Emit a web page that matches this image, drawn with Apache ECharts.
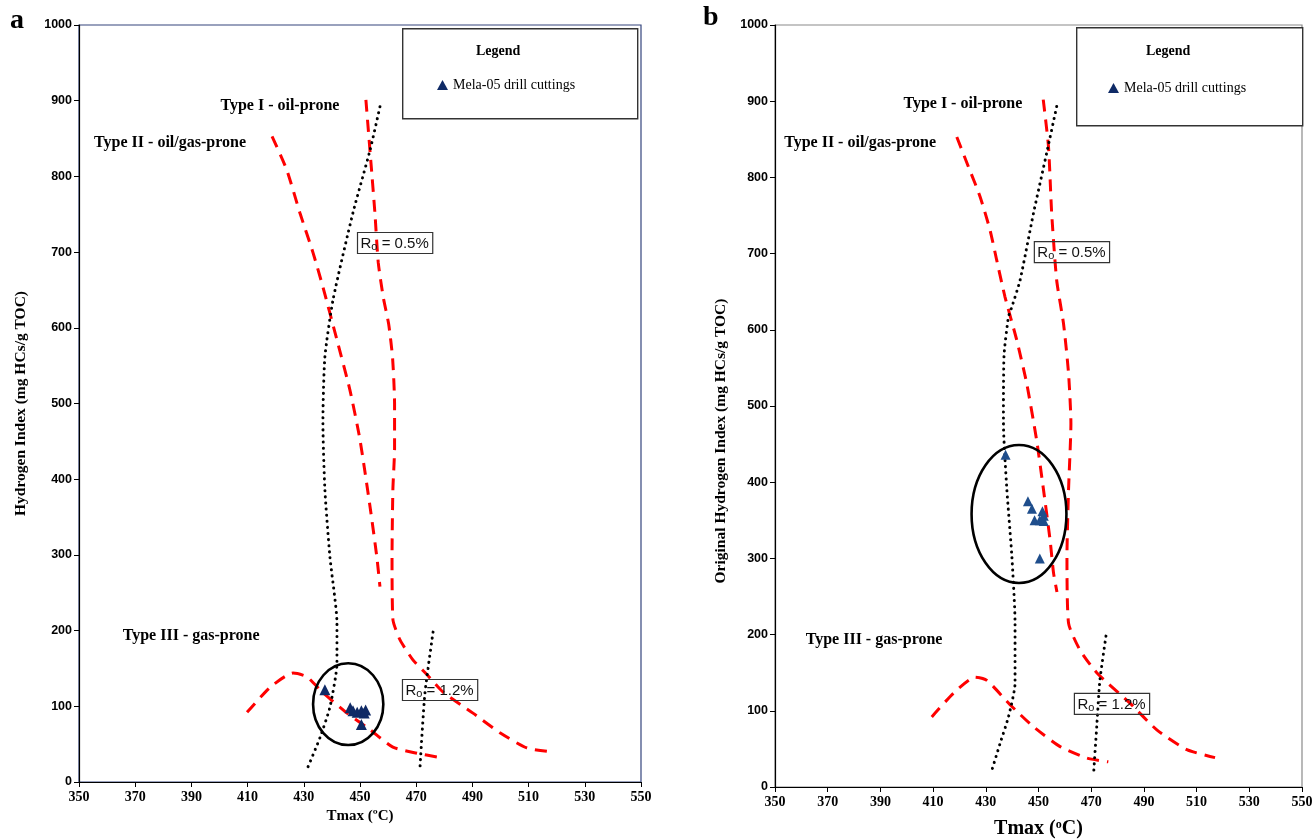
<!DOCTYPE html>
<html>
<head>
<meta charset="utf-8">
<script src="https://cdn.jsdelivr.net/npm/echarts@6/dist/echarts.min.js"></script>
<style>html,body{margin:0;padding:0;background:#fff;}#c{width:1312px;height:839px;}</style>
</head>
<body>
<div id="c"></div>
<script>
// ---------- Data ----------
const seriesName = 'Mela-05 drill cuttings';

// Panel a
const aSamples = [[437.5,122],[446.5,98],[447.5,94],[449,92],[450.5,94],[452,95],[451.5,91],[450.5,76]];
const aTypeI = [[452.1,901],[453.9,818],[455.3,752],[456.5,686],[458.3,640],[460.2,605],[461.6,560],[462.3,500],[462.3,440],[461.7,386],[461.4,297],[461.7,215],[464.2,188],[468.9,161],[473.8,142],[479.5,119],[490.2,91],[499.8,65],[509.4,45],[517.6,40]];
const aTypeII = [[418.7,853],[423.9,809],[428.6,752],[433.3,699],[436.8,654],[441.8,584],[446.4,518],[450,452],[453.6,363],[456,297],[457.1,258]];
const aTypeIII = [[409.8,92],[418,125],[426.2,144],[431.1,139],[436.8,118],[445.4,91],[453.6,69],[461.7,46],[470.3,38],[477.4,33]];
const aRo05 = [[457.1,892],[453.6,835],[447.5,752],[440.4,637],[437.5,561],[436.8,474],[437.5,386],[439.3,297],[441.8,210],[441.8,157],[439.3,99],[435.8,59],[431.5,20]];
const aRo12 = [[476,198],[473.1,117],[471.3,16]];
const aEllipse = [[445.8,102.8,12.5,54]]; // centre x, centre y, radius x, radius y (data units)
const aTypeText = [[421.5,893,'Type I - oil-prone'],[382.4,844,'Type II - oil/gas-prone'],[389.9,193,'Type III - gas-prone']];
const aRoText = [[462.5,712,'0.5%'],[478.5,121.5,'1.2%']];

// Panel b
const bSamples = [[437.5,436],[446,375],[447.5,365],[448.5,350],[450.5,350],[451.5,362],[452,356],[452,349],[450.5,300]];
const bTypeI = [[451.8,902],[453.8,840],[455,753],[456.9,665],[459.5,608],[461.4,543],[462.3,477],[461.4,390],[460.8,302],[461.4,215],[465.7,180],[472.1,150],[484.7,110],[494.9,75],[506.3,49],[517,38.5]];
const bTypeII = [[419,853],[423.4,814],[427.8,775],[431.6,731],[434.1,692],[437.3,643],[441.7,587],[445.5,530],[449.3,455],[451.9,390],[454.4,324],[455.7,281],[457,256]];
const bTypeIII = [[409.5,92],[417.7,123],[425.9,144],[430.4,140],[439.2,108],[448.1,79],[458.2,53],[468.3,38],[476.5,33]];
const bRo05 = [[456.9,893],[453.1,832],[448.1,753],[443,665],[439.9,630],[438.6,617],[436.9,565],[436.7,477],[438,390],[439.9,302],[441.1,215],[441.1,136],[438.6,92],[435.4,57],[432.3,22]];
const bRo12 = [[475.6,198],[473.3,140],[472.1,79],[470.9,17]];
const bEllipse = [[442.6,358.3,18,90.6]];
const bTypeText = [[421.3,897,'Type I - oil-prone'],[382.3,845,'Type II - oil/gas-prone'],[387.6,193,'Type III - gas-prone']];
const bRoText = [[462.7,702,'0.5%'],[477.9,109,'1.2%']];

const xMin = 350, xMax = 550, xStep = 20;
const yMin = 0, yMax = 1000, yStep = 100;

// ---------- Chart ----------
const serif = '"Liberation Serif", "Times New Roman", serif';
const sans = '"Liberation Sans", Arial, sans-serif';
const chart = echarts.init(document.getElementById('c'), null, {renderer: 'canvas'});

function xAxisCfg(gi, nameSize, useSup, gap) {
  return {
    type: 'value', gridIndex: gi, min: xMin, max: xMax, interval: xStep,
    name: useSup ? 'Tmax ({sup|o}C)' : 'Tmax (ºC)',
    nameLocation: 'middle', nameGap: gap,
    nameTextStyle: {fontFamily: serif, fontWeight: 'bold', fontSize: nameSize, color: '#000',
      rich: {sup: {fontFamily: serif, fontWeight: 'bold', fontSize: Math.round(nameSize*0.6), verticalAlign: 'top', padding: [0,0,8,0]}}},
    axisLine: {show: true, onZero: false, lineStyle: {color: '#000', width: 1.2}},
    axisTick: {show: true, inside: false, length: 5, lineStyle: {color: '#000'}},
    axisLabel: {fontFamily: serif, fontWeight: 'bold', fontSize: 14, color: '#000', margin: 8},
    splitLine: {show: false}
  };
}
function yAxisCfg(gi, name, gap, pad) {
  return {
    type: 'value', gridIndex: gi, min: yMin, max: yMax, interval: yStep,
    name: name, nameLocation: 'middle', nameGap: gap,
    nameTextStyle: {fontFamily: serif, fontWeight: 'bold', fontSize: 15.5, color: '#000', padding: pad},
    axisLine: {show: true, onZero: false, lineStyle: {color: '#000', width: 1.2}},
    axisTick: {show: true, inside: false, length: 5, lineStyle: {color: '#000'}},
    axisLabel: {fontFamily: sans, fontWeight: 'bold', fontSize: 12.5, color: '#000', margin: 7,
      formatter: v => String(v)},
    splitLine: {show: false}
  };
}

function curve(name, data, gi, kind) {
  const red = kind === 'red';
  return {
    name: name, type: 'line', xAxisIndex: gi, yAxisIndex: gi, data: data,
    smooth: 0.2, symbol: 'none', silent: true, z: 3,
    lineStyle: red ? {color: '#ff0000', width: 3, type: [12, 8], opacity: 1}
                   : {color: '#000', width: 3, type: [0.1, 6], cap: 'round', opacity: 1}
  };
}
function ellipse(data, gi) {
  return {
    type: 'custom', xAxisIndex: gi, yAxisIndex: gi, data: data, silent: true, clip: false, z: 4,
    renderItem: function (params, api) {
      const c = api.coord([api.value(0), api.value(1)]);
      const s = api.size([api.value(2), api.value(3)]);
      return {type: 'ellipse', shape: {cx: c[0], cy: c[1], rx: s[0], ry: s[1]},
              style: {fill: 'none', stroke: '#000', lineWidth: 2.6}};
    }
  };
}
function typeLabels(data, gi) {
  return {
    type: 'scatter', xAxisIndex: gi, yAxisIndex: gi, symbolSize: 0, silent: true, z: 6,
    itemStyle: {opacity: 1},
    data: data.map(d => ({value: [d[0], d[1]], text: d[2]})),
    label: {show: true, position: 'inside', formatter: p => p.data.text, opacity: 1,
      fontFamily: serif, fontWeight: 'bold', fontSize: 16, color: '#000'}
  };
}
function roLabels(data, gi) {
  return {
    type: 'scatter', xAxisIndex: gi, yAxisIndex: gi, symbolSize: 0, silent: true, z: 6,
    itemStyle: {opacity: 1},
    data: data.map(d => ({value: [d[0], d[1]], text: d[2]})),
    label: {show: true, position: 'inside', opacity: 1,
      formatter: p => '{r|R}{s|o}{r| = ' + p.data.text + '}',
      borderColor: '#333', borderWidth: 1.2, padding: [2, 4, 1, 3],
      rich: {r: {fontFamily: sans, fontSize: 15, color: '#111', lineHeight: 18},
             s: {fontFamily: sans, fontSize: 11, color: '#111', lineHeight: 12, verticalAlign: 'bottom'}}}
  };
}
function samples(data, gi, color, size) {
  return {
    name: seriesName, type: 'scatter', xAxisIndex: gi, yAxisIndex: gi, data: data,
    symbol: 'triangle', symbolSize: size, z: 5,
    itemStyle: {color: color, opacity: 1}
  };
}

const option = {
  backgroundColor: '#fff',
  animation: false,
  grid: [
    {left: 79, right: 671, top: 25, bottom: 57, show: true, borderColor: '#34457d', borderWidth: 1.2, backgroundColor: 'transparent', outerBoundsMode: 'none', containLabel: false},
    {left: 775, right: 10, top: 25, bottom: 52, show: true, borderColor: '#8a8a8a', borderWidth: 1.2, backgroundColor: 'transparent', outerBoundsMode: 'none', containLabel: false}
  ],
  xAxis: [xAxisCfg(0, 15, false, 20), xAxisCfg(1, 20, true, 32)],
  yAxis: [
    yAxisCfg(0, 'Hydrogen Index (mg HCs/g TOC)', 50, [0, 0, 0, 0]),
    yAxisCfg(1, 'Original Hydrogen Index (mg HCs/g TOC)', 46, [0, 70, 0, 0])
  ],
  legend: [
    {data: [seriesName], left: 437, top: 78, itemWidth: 11, itemHeight: 10, itemGap: 4, padding: 0, selectedMode: false,
     textStyle: {fontFamily: serif, fontSize: 14, color: '#000'}},
    {data: [seriesName], left: 1108, top: 81, itemWidth: 11, itemHeight: 10, itemGap: 4, padding: 0, selectedMode: false,
     textStyle: {fontFamily: serif, fontSize: 14, color: '#000'}}
  ],
  graphic: [
    {type: 'rect', left: 402, top: 28, shape: {width: 235, height: 90}, style: {fill: '#fff', stroke: '#333', lineWidth: 1.4}, z: 1},
    {type: 'text', left: 476, top: 44, style: {text: 'Legend', font: 'bold 14px ' + serif, fill: '#000'}, z: 2},
    {type: 'rect', left: 1076, top: 27, shape: {width: 226, height: 98}, style: {fill: '#fff', stroke: '#333', lineWidth: 1.4}, z: 1},
    {type: 'text', left: 1146, top: 44, style: {text: 'Legend', font: 'bold 14px ' + serif, fill: '#000'}, z: 2},
    {type: 'text', left: 10, top: 7, style: {text: 'a', font: 'bold 28px ' + serif, fill: '#000'}},
    {type: 'text', left: 703, top: 4, style: {text: 'b', font: 'bold 28px ' + serif, fill: '#000'}}
  ],
  series: [
    curve('aTypeI', aTypeI, 0, 'red'),
    curve('aTypeII', aTypeII, 0, 'red'),
    curve('aTypeIII', aTypeIII, 0, 'red'),
    curve('aRo05', aRo05, 0, 'black'),
    curve('aRo12', aRo12, 0, 'black'),
    ellipse(aEllipse, 0),
    samples(aSamples, 0, '#0f2a66', 11),
    typeLabels(aTypeText, 0),
    roLabels(aRoText, 0),

    curve('bTypeI', bTypeI, 1, 'red'),
    curve('bTypeII', bTypeII, 1, 'red'),
    curve('bTypeIII', bTypeIII, 1, 'red'),
    curve('bRo05', bRo05, 1, 'black'),
    curve('bRo12', bRo12, 1, 'black'),
    ellipse(bEllipse, 1),
    samples(bSamples, 1, '#1f4e8c', 10),
    typeLabels(bTypeText, 1),
    roLabels(bRoText, 1)
  ]
};
chart.setOption(option);
</script>
</body>
</html>
